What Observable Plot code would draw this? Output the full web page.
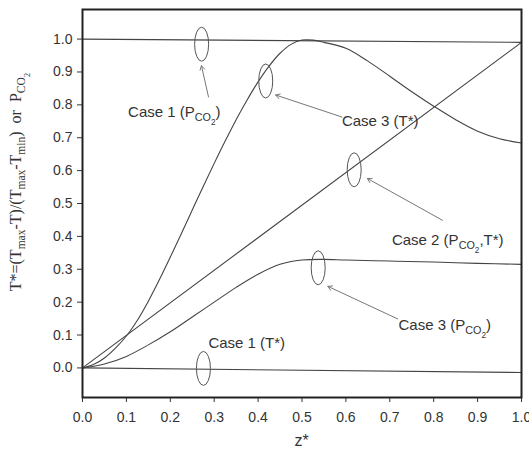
<!DOCTYPE html>
<html><head><meta charset="utf-8">
<script src="https://cdn.jsdelivr.net/npm/d3@7"></script>
<script src="https://cdn.jsdelivr.net/npm/@observablehq/plot@0.6"></script>
<style>body{margin:0;background:#fff}</style>
</head><body><div id="chart"></div>
<script>
// ---- data ----
const xTicks = [0,0.1,0.2,0.3,0.4,0.5,0.6,0.7,0.8,0.9,1.0];
const yTicks = [0,0.1,0.2,0.3,0.4,0.5,0.6,0.7,0.8,0.9,1.0];

const case1P_z = [0, 1.0];
const case1P_v = [1.0, 0.99];

const case1T_z = [0, 1.0];
const case1T_v = [0.0, -0.014];

const case2_z = [0, 1.0];
const case2_v = [0.0, 0.99];

const case3T_z = [0,0.025,0.05,0.075,0.1,0.125,0.15,0.175,0.2,0.225,0.25,0.275,0.3,0.325,0.35,0.375,0.4,0.425,0.45,0.475,0.5,0.525,0.55,0.6,0.65,0.7,0.75,0.8,0.85,0.9,0.95,1.0];
const case3T_v = [0,0.01,0.03,0.06,0.097,0.145,0.203,0.268,0.337,0.408,0.48,0.552,0.622,0.69,0.755,0.815,0.87,0.918,0.957,0.984,0.997,0.997,0.99,0.972,0.933,0.887,0.84,0.796,0.755,0.72,0.697,0.684];

const case3P_z = [0,0.05,0.1,0.15,0.2,0.25,0.3,0.35,0.4,0.45,0.5,0.55,0.6,0.7,0.8,0.9,1.0];
const case3P_v = [0,0.012,0.035,0.07,0.11,0.155,0.2,0.245,0.285,0.315,0.328,0.33,0.328,0.325,0.322,0.318,0.315];

// annotations (data coordinates)
const ellipseX = [0.2725, 0.4185, 0.620, 0.538, 0.2766];
const ellipseY = [0.983, 0.871, 0.601, 0.303, -0.003];

const arrowX1 = [0.287, 0.591, 0.820, 0.718];
const arrowY1 = [0.824, 0.763, 0.449, 0.149];
const arrowX2 = [0.271, 0.440, 0.649, 0.559];
const arrowY2 = [0.919, 0.830, 0.576, 0.248];

const labelX = [0.105, 0.592, 0.706, 0.721, 0.288];
const labelY = [0.763, 0.734, 0.373, 0.114, 0.059];
const labelParts = [
  [["Case 1 (P",0],["CO",1],["2",2],[")",0]],
  [["Case 3 (T*)",0]],
  [["Case 2 (P",0],["CO",1],["2",2],[",T*)",0]],
  [["Case 3 (P",0],["CO",1],["2",2],[")",0]],
  [["Case 1 (T*)",0]]
];
const yLabelParts = [["T*=(T",0],["max",1],["-T)/(T",0],["max",1],["-T",0],["min",1],[")\u00a0\u00a0or\u00a0\u00a0P",0],["CO",1],["2",2]];

// ---- build tables ----
const rows = [];
function add(name, zs, vs){ zs.forEach((z,i)=>rows.push({series:name, z, v:vs[i]})); }
add("Case 1 P", case1P_z, case1P_v);
add("Case 1 T", case1T_z, case1T_v);
add("Case 2", case2_z, case2_v);
add("Case 3 T", case3T_z, case3T_v);
add("Case 3 P", case3P_z, case3P_v);

const arrows = arrowX1.map((d,i)=>({x1:d, y1:arrowY1[i], x2:arrowX2[i], y2:arrowY2[i]}));

const plot = Plot.plot({
  width: 529, height: 463,
  marginTop: 9, marginRight: 8, marginBottom: 66, marginLeft: 82,
  x: {domain: [0, 1]},
  y: {domain: [-0.09, 1.09]},
  style: {fontFamily: "'Liberation Sans', Arial, sans-serif", color: "#333", background: "#fff"},
  marks: [
    Plot.axisX({ticks: xTicks, tickFormat: d3.format(".1f"), tickSize: 5, tickPadding: 10, fontSize: 14, label: null, stroke: "#333"}),
    Plot.axisY({ticks: yTicks, tickFormat: d3.format(".1f"), tickSize: 5, tickPadding: 5, fontSize: 14, label: null, stroke: "#333"}),
    Plot.line(rows, {x: "z", y: "v", z: "series", stroke: "#444", strokeWidth: 1.1, curve: "catmull-rom"}),
    Plot.arrow(arrows, {x1: "x1", y1: "y1", x2: "x2", y2: "y2", stroke: "#777", strokeWidth: 1, headLength: 7}),
    Plot.frame({stroke: "#222", strokeWidth: 2})
  ]
});
document.getElementById("chart").append(plot);

const sx = plot.scale("x"), sy = plot.scale("y");
const svg = d3.select(plot);

// ellipses
const eg = svg.append("g").attr("fill","none").attr("stroke","#555").attr("stroke-width",1);
ellipseX.forEach((ex,i)=>{
  eg.append("ellipse").attr("cx", sx.apply(ex)).attr("cy", sy.apply(ellipseY[i])).attr("rx", 7).attr("ry", 17);
});

// rich text helper
function rich(g, parts, fs){
  let level = 0;
  parts.forEach(([t,l])=>{
    const size = l===0 ? fs : (l===1 ? fs*0.72 : fs*0.55);
    const shift = (l - level) * fs*0.28;
    g.append("tspan").attr("font-size", size).attr("dy", shift).text(t);
    level = l;
  });
}

const tg = svg.append("g").attr("fill","#333").attr("text-anchor","start")
  .attr("font-family","'Liberation Sans', Arial, sans-serif");
labelX.forEach((lx,i)=>{
  const t = tg.append("text").attr("x", sx.apply(lx)).attr("y", sy.apply(labelY[i]));
  rich(t, labelParts[i], 15);
});

// x axis label
svg.append("text").attr("x", sx.apply(0.5)).attr("y", 446).attr("text-anchor","middle")
  .attr("font-family","'Liberation Sans', Arial, sans-serif").attr("font-size",16).attr("fill","#333").text("z*");

// y axis label
const yl = svg.append("text").attr("transform","translate(21,182) rotate(-90)").attr("text-anchor","middle")
  .attr("font-family","'Liberation Serif', 'Times New Roman', serif").attr("fill","#333");
rich(yl, yLabelParts, 16);
</script>
</body></html>
